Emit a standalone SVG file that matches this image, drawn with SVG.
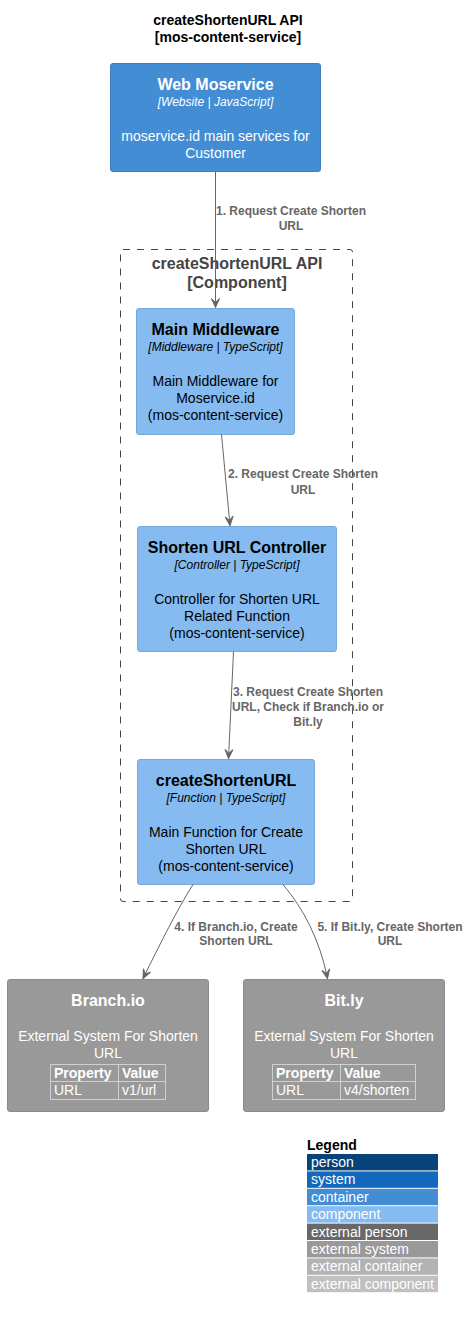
<svg xmlns="http://www.w3.org/2000/svg" width="468" height="1319" viewBox="0 0 468 1319">
<style>
text{font-family:"Liberation Sans",Arial,sans-serif;text-anchor:middle}
.title{font-size:14px;font-weight:bold;fill:#000}
.name{font-size:16px;font-weight:bold}
.tech{font-size:12px;font-style:italic}
.desc{font-size:14px}
.w{fill:#FFFFFF}
.b{fill:#000000}
.lbl{font-size:12px;font-weight:bold;fill:#666666}
.bnd{font-size:16px;font-weight:bold;fill:#444444}
.conn{fill:none;stroke:#666666;stroke-width:1}
.tbl{fill:none;stroke:#D0D0D0;stroke-width:1}
.th{font-size:14px;font-weight:bold;fill:#fff;text-anchor:start}
.td{font-size:14px;fill:#fff;text-anchor:start}
.leg{font-size:14px;fill:#fff;text-anchor:start}
</style>
<defs>
<marker id="arr" markerUnits="userSpaceOnUse" markerWidth="12" markerHeight="10" viewBox="-10 -5 12 10" refX="0" refY="0" orient="auto">
<path d="M0,0 L-9,-4 L-5,0 L-9,4 Z" fill="#666666" stroke="#666666" stroke-width="1"/>
</marker>
</defs>
<rect width="468" height="1319" fill="#FFFFFF"/>
<g id="title">
<text class="title" x="228" y="25">createShortenURL API</text>
<text class="title" x="228" y="42">[mos-content-service]</text>
</g>
<g id="boundary">
<rect x="120.5" y="249.5" width="232" height="652" rx="2.5" fill="none" stroke="#444444" stroke-width="1" stroke-dasharray="7,7"/>
<text class="bnd" x="237" y="269">createShortenURL API</text>
<text class="bnd" x="237" y="288">[Component]</text>
</g>
<g id="web-moservice">
<rect x="110.5" y="63.5" width="210" height="108" rx="2.5" fill="#438DD5" stroke="#3C7FC0"/>
<text class="name w" x="215.5" y="90">Web Moservice</text>
<text class="tech w" x="215.5" y="106">[Website | JavaScript]</text>
<text class="desc w" x="215.5" y="141">moservice.id main services for</text>
<text class="desc w" x="215.5" y="158">Customer</text>
</g>
<g id="main-middleware">
<rect x="136.5" y="308.5" width="158" height="126" rx="2.5" fill="#85BBF0" stroke="#78A8D8"/>
<text class="name b" x="215.5" y="335">Main Middleware</text>
<text class="tech b" x="215.5" y="351">[Middleware | TypeScript]</text>
<text class="desc b" x="215.5" y="386">Main Middleware for</text>
<text class="desc b" x="215.5" y="403">Moservice.id</text>
<text class="desc b" x="215.5" y="420">(mos-content-service)</text>
</g>
<g id="shorten-url-controller">
<rect x="137.5" y="526.5" width="199" height="125" rx="2.5" fill="#85BBF0" stroke="#78A8D8"/>
<text class="name b" x="237" y="553">Shorten URL Controller</text>
<text class="tech b" x="237" y="569">[Controller | TypeScript]</text>
<text class="desc b" x="237" y="604">Controller for Shorten URL</text>
<text class="desc b" x="237" y="621">Related Function</text>
<text class="desc b" x="237" y="638">(mos-content-service)</text>
</g>
<g id="create-shorten-url">
<rect x="137.5" y="759.5" width="177" height="125" rx="2.5" fill="#85BBF0" stroke="#78A8D8"/>
<text class="name b" x="226" y="786">createShortenURL</text>
<text class="tech b" x="226" y="802">[Function | TypeScript]</text>
<text class="desc b" x="226" y="837">Main Function for Create</text>
<text class="desc b" x="226" y="854">Shorten URL</text>
<text class="desc b" x="226" y="871">(mos-content-service)</text>
</g>
<g id="branch-io">
<rect x="7.5" y="979.5" width="201" height="132" rx="2.5" fill="#999999" stroke="#8A8A8A"/>
<text class="name w" x="108" y="1006">Branch.io</text>
<text class="desc w" x="108" y="1041">External System For Shorten</text>
<text class="desc w" x="108" y="1058">URL</text>
<rect class="tbl" x="50.5" y="1064.5" width="115" height="35"/>
<line class="tbl" x1="50.5" y1="1081.5" x2="165.5" y2="1081.5"/>
<line class="tbl" x1="118.5" y1="1064.5" x2="118.5" y2="1099.5"/>
<text class="th" x="54" y="1078">Property</text>
<text class="th" x="122" y="1078">Value</text>
<text class="td" x="54" y="1095">URL</text>
<text class="td" x="122" y="1095">v1/url</text>
</g>
<g id="bit-ly">
<rect x="243.5" y="979.5" width="201" height="132" rx="2.5" fill="#999999" stroke="#8A8A8A"/>
<text class="name w" x="344" y="1006">Bit.ly</text>
<text class="desc w" x="344" y="1041">External System For Shorten</text>
<text class="desc w" x="344" y="1058">URL</text>
<rect class="tbl" x="272.5" y="1064.5" width="143" height="35"/>
<line class="tbl" x1="272.5" y1="1081.5" x2="415.5" y2="1081.5"/>
<line class="tbl" x1="340.5" y1="1064.5" x2="340.5" y2="1099.5"/>
<text class="th" x="276" y="1078">Property</text>
<text class="th" x="344" y="1078">Value</text>
<text class="td" x="276" y="1095">URL</text>
<text class="td" x="344" y="1095">v4/shorten</text>
</g>
<g id="connectors">
<path class="conn" d="M215.5,171.5 L215.5,307.5" marker-end="url(#arr)"/>
<text class="lbl" x="291" y="215">1. Request Create Shorten</text>
<text class="lbl" x="291" y="230">URL</text>
<path class="conn" d="M221.5,434.5 L230,525.5" marker-end="url(#arr)"/>
<text class="lbl" x="303" y="478">2. Request Create Shorten</text>
<text class="lbl" x="303" y="494">URL</text>
<path class="conn" d="M233.5,651.5 L228.5,758.5" marker-end="url(#arr)"/>
<text class="lbl" x="308" y="696">3. Request Create Shorten</text>
<text class="lbl" x="308" y="711">URL, Check if Branch.io or</text>
<text class="lbl" x="308" y="726">Bit.ly</text>
<path class="conn" d="M193,884.5 C178,908 160,944 143,978.5" marker-end="url(#arr)"/>
<text class="lbl" x="236" y="931">4. If Branch.io, Create</text>
<text class="lbl" x="236" y="945">Shorten URL</text>
<path class="conn" d="M283,884.5 C303,908 320,940 327.5,978.5" marker-end="url(#arr)"/>
<text class="lbl" x="390" y="931">5. If Bit.ly, Create Shorten</text>
<text class="lbl" x="390" y="945">URL</text>
</g>
<g id="legend">
<text x="307" y="1150" style="font-size:14px;font-weight:bold;fill:#000;text-anchor:start">Legend</text>
<rect x="307" y="1154" width="131" height="16.4" fill="#08427B"/>
<text class="leg" x="311" y="1167">person</text>
<rect x="307" y="1171.4" width="131" height="16.4" fill="#1168BD"/>
<text class="leg" x="311" y="1184.4">system</text>
<rect x="307" y="1188.8" width="131" height="16.4" fill="#438DD5"/>
<text class="leg" x="311" y="1201.8">container</text>
<rect x="307" y="1206.2" width="131" height="16.4" fill="#85BBF0"/>
<text class="leg" x="311" y="1219.2">component</text>
<rect x="307" y="1223.6" width="131" height="16.4" fill="#686868"/>
<text class="leg" x="311" y="1236.6">external person</text>
<rect x="307" y="1241" width="131" height="16.4" fill="#999999"/>
<text class="leg" x="311" y="1254">external system</text>
<rect x="307" y="1258.4" width="131" height="16.4" fill="#B3B3B3"/>
<text class="leg" x="311" y="1271.4">external container</text>
<rect x="307" y="1275.8" width="131" height="16.4" fill="#C0C0C0"/>
<text class="leg" x="311" y="1288.8">external component</text>
</g>
</svg>
